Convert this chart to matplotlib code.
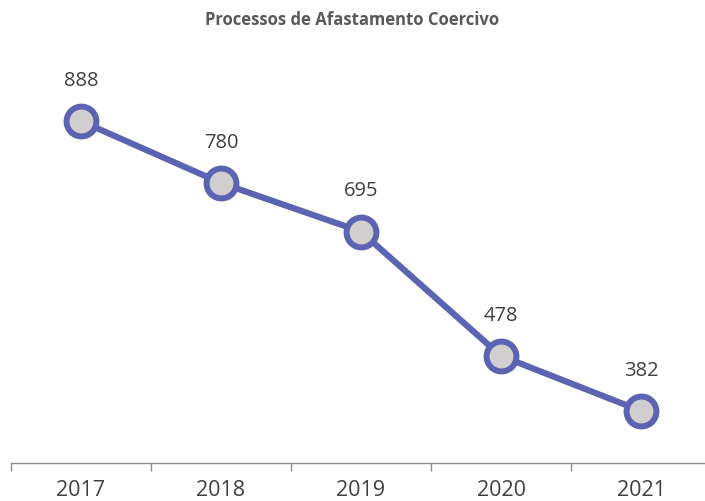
import matplotlib.pyplot as plt
import numpy as np

plt.rcParams['font.family'] = ['Open Sans', 'DejaVu Sans']

years = ['2017', '2018', '2019', '2020', '2021']
processos = [888, 780, 695, 478, 382]

line_col = '#5B64B2'
text_col = '#404040'

fig = plt.figure(figsize=(7.05, 5.01), dpi=100)
ax = fig.add_axes([11 / 705, 38 / 501, 700 / 705, 406 / 501])

x = np.arange(len(years))
ax.plot(x, processos, color=line_col, lw=4.5, marker='o', ms=21.5,
        mfc='#D0CECE', mec=line_col, mew=4.3, solid_capstyle='round', zorder=3)

for xi, v in zip(x, processos):
    ax.annotate(str(v), (xi, v), xytext=(0, 29), textcoords='offset points',
                ha='center', va='center', fontsize=14.5, color=text_col)

ax.set_xlim(-0.5, 4.5)
ax.set_ylim(291, 1000)
ax.set_xticks(x)
ax.set_xticklabels(years, fontsize=15.5, color=text_col)
ax.set_xticks(np.arange(-0.5, 5, 1), minor=True)
ax.tick_params(axis='x', which='major', length=0, pad=12)
ax.tick_params(axis='x', which='minor', length=6, color='#8C8C8C', width=1)
ax.set_yticks([])
for s in ['top', 'right', 'left']:
    ax.spines[s].set_visible(False)
ax.spines['bottom'].set_color('#8C8C8C')
ax.spines['bottom'].set_linewidth(1)

fig.text(0.5, 1 - 20 / 501, 'Processos de Afastamento Coercivo', ha='center', va='center',
         fontsize=12, fontweight='bold', color='#595959')

fig.savefig('out.png', dpi=100)
